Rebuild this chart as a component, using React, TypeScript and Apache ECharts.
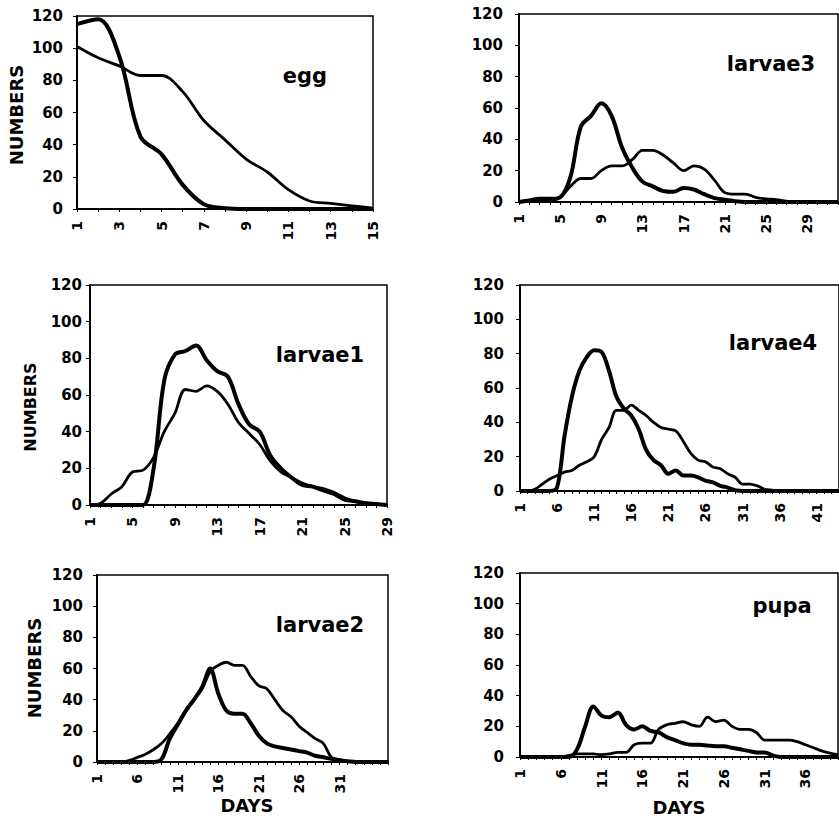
import React, { useEffect, useRef } from "react";
import * as echarts from "echarts";

// ---- data ----
const eggDays = [1, 2, 3, 4, 5, 6, 7, 8, 9, 10, 11, 12, 13, 14, 15];
const eggA = [115, 118, 95, 45, 34, 15, 3, 0.5, 0, 0, 0, 0, 0, 0, 0];
const eggB = [101, 94, 89, 83, 83, 73, 55, 43, 31, 23, 12, 5, 3.5, 2, 0.5];

const larvae3Days = [1, 2, 3, 4, 5, 6, 7, 8, 9, 10, 11, 12, 13, 14, 15, 16, 17, 18, 19, 20, 21, 22, 23, 24, 25, 26, 27, 28, 29, 30, 31, 32];
const larvae3A = [0, 1, 2, 2, 3, 16, 48, 55, 63, 55, 35, 22, 13, 10, 7, 6.5, 9, 8, 5, 2.5, 1.5, 0.5, 0, 0, 0, 0, 0, 0, 0, 0, 0, 0];
const larvae3B = [0, 0.5, 1, 1, 3, 10, 15, 15, 20, 23, 23, 27, 33, 33, 30, 25, 20, 23, 21, 14, 6, 5, 5, 3, 2, 1.5, 0.5, 0, 0, 0, 0, 0];

const larvae1Days = [1, 2, 3, 4, 5, 6, 7, 8, 9, 10, 11, 12, 13, 14, 15, 16, 17, 18, 19, 20, 21, 22, 23, 24, 25, 26, 27, 28, 29];
const larvae1A = [0, 0, 0, 0, 0, 0, 20, 68, 82, 84, 87, 79, 73, 70, 55, 44, 40, 27, 20, 15, 11, 10, 8, 6, 3, 2, 1, 0.5, 0];
const larvae1B = [0, 1, 6, 10, 18, 19, 26, 40, 50, 63, 62, 65, 62, 55, 45, 39, 33, 24, 18, 15, 12, 10, 9, 7, 4, 2, 1, 0.5, 0];

const larvae4Days = [1, 2, 3, 4, 5, 6, 7, 8, 9, 10, 11, 12, 13, 14, 15, 16, 17, 18, 19, 20, 21, 22, 23, 24, 25, 26, 27, 28, 29, 30, 31, 32, 33, 34, 35, 36, 37, 38, 39, 40, 41, 42, 43, 44];
const larvae4A = [0, 0, 0, 0, 0, 2, 32, 55, 70, 78, 82, 81, 70, 55, 48, 44, 36, 24, 18, 15, 10, 12, 9, 9, 8, 6, 5, 3, 2, 0.5, 0, 0, 0, 0, 0, 0, 0, 0, 0, 0, 0, 0, 0, 0];
const larvae4B = [0, 0, 1, 4, 7, 9, 11, 12, 15, 17, 20, 30, 37, 47, 47, 50, 47, 44, 40, 37, 36, 35, 29, 22, 18, 17, 14, 13, 10, 8, 4, 4, 3, 1, 0.5, 0, 0, 0, 0, 0, 0, 0, 0, 0];

const larvae2Days = [1, 2, 3, 4, 5, 6, 7, 8, 9, 10, 11, 12, 13, 14, 15, 16, 17, 18, 19, 20, 21, 22, 23, 24, 25, 26, 27, 28, 29, 30, 31, 32, 33, 34, 35, 36, 37];
const larvae2A = [0, 0, 0, 0, 0, 0, 0, 0, 2, 15, 24, 33, 40, 48, 60, 44, 33, 31, 31, 25, 17, 12, 10, 9, 8, 7, 6, 4, 3, 2, 1, 0.5, 0, 0, 0, 0, 0];
const larvae2B = [0, 0, 0, 0, 1, 3, 5, 8, 12, 18, 25, 33, 40, 47, 58, 62, 64, 62, 62, 55, 49, 47, 40, 33, 29, 23, 19, 15, 12, 3, 1.5, 0.5, 0, 0, 0, 0, 0];

const pupaDays = [1, 2, 3, 4, 5, 6, 7, 8, 9, 10, 11, 12, 13, 14, 15, 16, 17, 18, 19, 20, 21, 22, 23, 24, 25, 26, 27, 28, 29, 30, 31, 32, 33, 34, 35, 36, 37, 38, 39, 40];
const pupaA = [0, 0, 0, 0, 0, 0, 0, 5, 20, 33, 27, 26, 29, 21, 18, 20, 17, 16, 13, 11, 9, 8, 8, 7.5, 7, 7, 6, 5, 4, 3, 3, 1, 0, 0, 0, 0, 0, 0, 0, 0];
const pupaB = [0, 0, 0, 0, 0, 0, 1, 2, 2, 2, 1.5, 2, 3, 3, 8, 9, 9, 18, 21, 22, 23, 21, 20, 26, 23, 24, 20, 18, 18, 16, 11, 11, 11, 11, 10, 8, 6, 4, 2.5, 1.5];

const yTicks = { min: 0, max: 120, interval: 20 };
const yName = "NUMBERS";
const xName = "DAYS";

// ---- layout ----
const panels = [
  { title: "egg", days: eggDays, a: eggA, b: eggB, left: 77, top: 16, width: 296, height: 193, every: 2, yMargin: 14, tx: 305, ty: 76 },
  { title: "larvae3", days: larvae3Days, a: larvae3A, b: larvae3B, left: 519, top: 14, width: 319, height: 188, every: 4, yMargin: 16, tx: 771, ty: 64 },
  { title: "larvae1", days: larvae1Days, a: larvae1A, b: larvae1B, left: 90, top: 285, width: 297, height: 220, every: 4, yMargin: 8, tx: 320, ty: 355 },
  { title: "larvae4", days: larvae4Days, a: larvae4A, b: larvae4B, left: 520, top: 285, width: 319, height: 206, every: 5, yMargin: 16, tx: 773, ty: 343 },
  { title: "larvae2", days: larvae2Days, a: larvae2A, b: larvae2B, left: 97, top: 575, width: 291, height: 187, every: 5, maxLabel: 31, yMargin: 14, tx: 320, ty: 625 },
  { title: "pupa", days: pupaDays, a: pupaA, b: pupaB, left: 520, top: 573, width: 318, height: 184, every: 5, yMargin: 16, tx: 782, ty: 606 },
];

const FONT = "DejaVu Sans";

export default function App() {
  const ref = useRef<HTMLDivElement>(null);
  useEffect(() => {
    if (!ref.current) return;
    const chart = echarts.init(ref.current, null, { renderer: "svg" });
    const graphic: any[] = [];
    panels.forEach((p) => {
      graphic.push({
        type: "text",
        x: p.tx,
        y: p.ty,
        style: { text: p.title, align: "center", verticalAlign: "middle", font: `bold 21px '${FONT}'`, fill: "#000" },
      });
    });
    const yNames = [
      { x: 16, y: 115, size: 18 },
      { x: 30, y: 407, size: 16 },
      { x: 34, y: 668, size: 18 },
    ];
    yNames.forEach((n) =>
      graphic.push({
        type: "text",
        x: n.x,
        y: n.y,
        rotation: Math.PI / 2,
        style: { text: yName, align: "center", verticalAlign: "middle", font: `bold ${n.size}px '${FONT}'`, fill: "#000" },
      })
    );
    [
      { x: 247, y: 805 },
      { x: 679, y: 807 },
    ].forEach((n) =>
      graphic.push({
        type: "text",
        x: n.x,
        y: n.y,
        style: { text: xName, align: "center", verticalAlign: "middle", font: `bold 18px '${FONT}'`, fill: "#000" },
      })
    );

    const option: any = {
      animation: false,
      backgroundColor: "#fff",
      grid: panels.map((p) => ({
        left: p.left,
        top: p.top,
        width: p.width,
        height: p.height,
        show: true,
        borderColor: "#000",
        borderWidth: 1.5,
        backgroundColor: "transparent",
      })),
      xAxis: panels.map((p, i) => ({
        type: "category",
        gridIndex: i,
        data: p.days.map(String),
        boundaryGap: false,
        axisLine: { lineStyle: { color: "#000", width: 2 } },
        axisTick: { show: true, interval: 0, length: 3, lineStyle: { color: "#000", width: 1 } },
        axisLabel: {
          rotate: 90,
          interval: (idx: number) => idx % p.every === 0 && (p.maxLabel === undefined || p.days[idx] <= p.maxLabel),
          margin: 12,
          color: "#000",
          fontFamily: FONT,
          fontWeight: "bold",
          fontSize: 14,
        },
        splitLine: { show: false },
      })),
      yAxis: panels.map((p, i) => ({
        type: "value",
        gridIndex: i,
        min: yTicks.min,
        max: yTicks.max,
        interval: yTicks.interval,
        axisLine: { show: true, lineStyle: { color: "#000", width: 2 } },
        axisTick: { show: true, length: 4, lineStyle: { color: "#000", width: 1 } },
        axisLabel: { margin: p.yMargin, color: "#000", fontFamily: FONT, fontWeight: "bold", fontSize: 15 },
        splitLine: { show: false },
      })),
      series: panels.flatMap((p, i) => [
        {
          type: "line",
          xAxisIndex: i,
          yAxisIndex: i,
          data: p.a,
          smooth: 0.35,
          symbol: "none",
          lineStyle: { color: "#000", width: 4 },
        },
        {
          type: "line",
          xAxisIndex: i,
          yAxisIndex: i,
          data: p.b,
          smooth: 0.35,
          symbol: "none",
          lineStyle: { color: "#000", width: 2.8 },
        },
      ]),
      graphic,
    };
    chart.setOption(option);
    return () => chart.dispose();
  }, []);
  return <div ref={ref} style={{ position: "absolute", left: 0, top: 0, width: 839, height: 820 }} />;
}
